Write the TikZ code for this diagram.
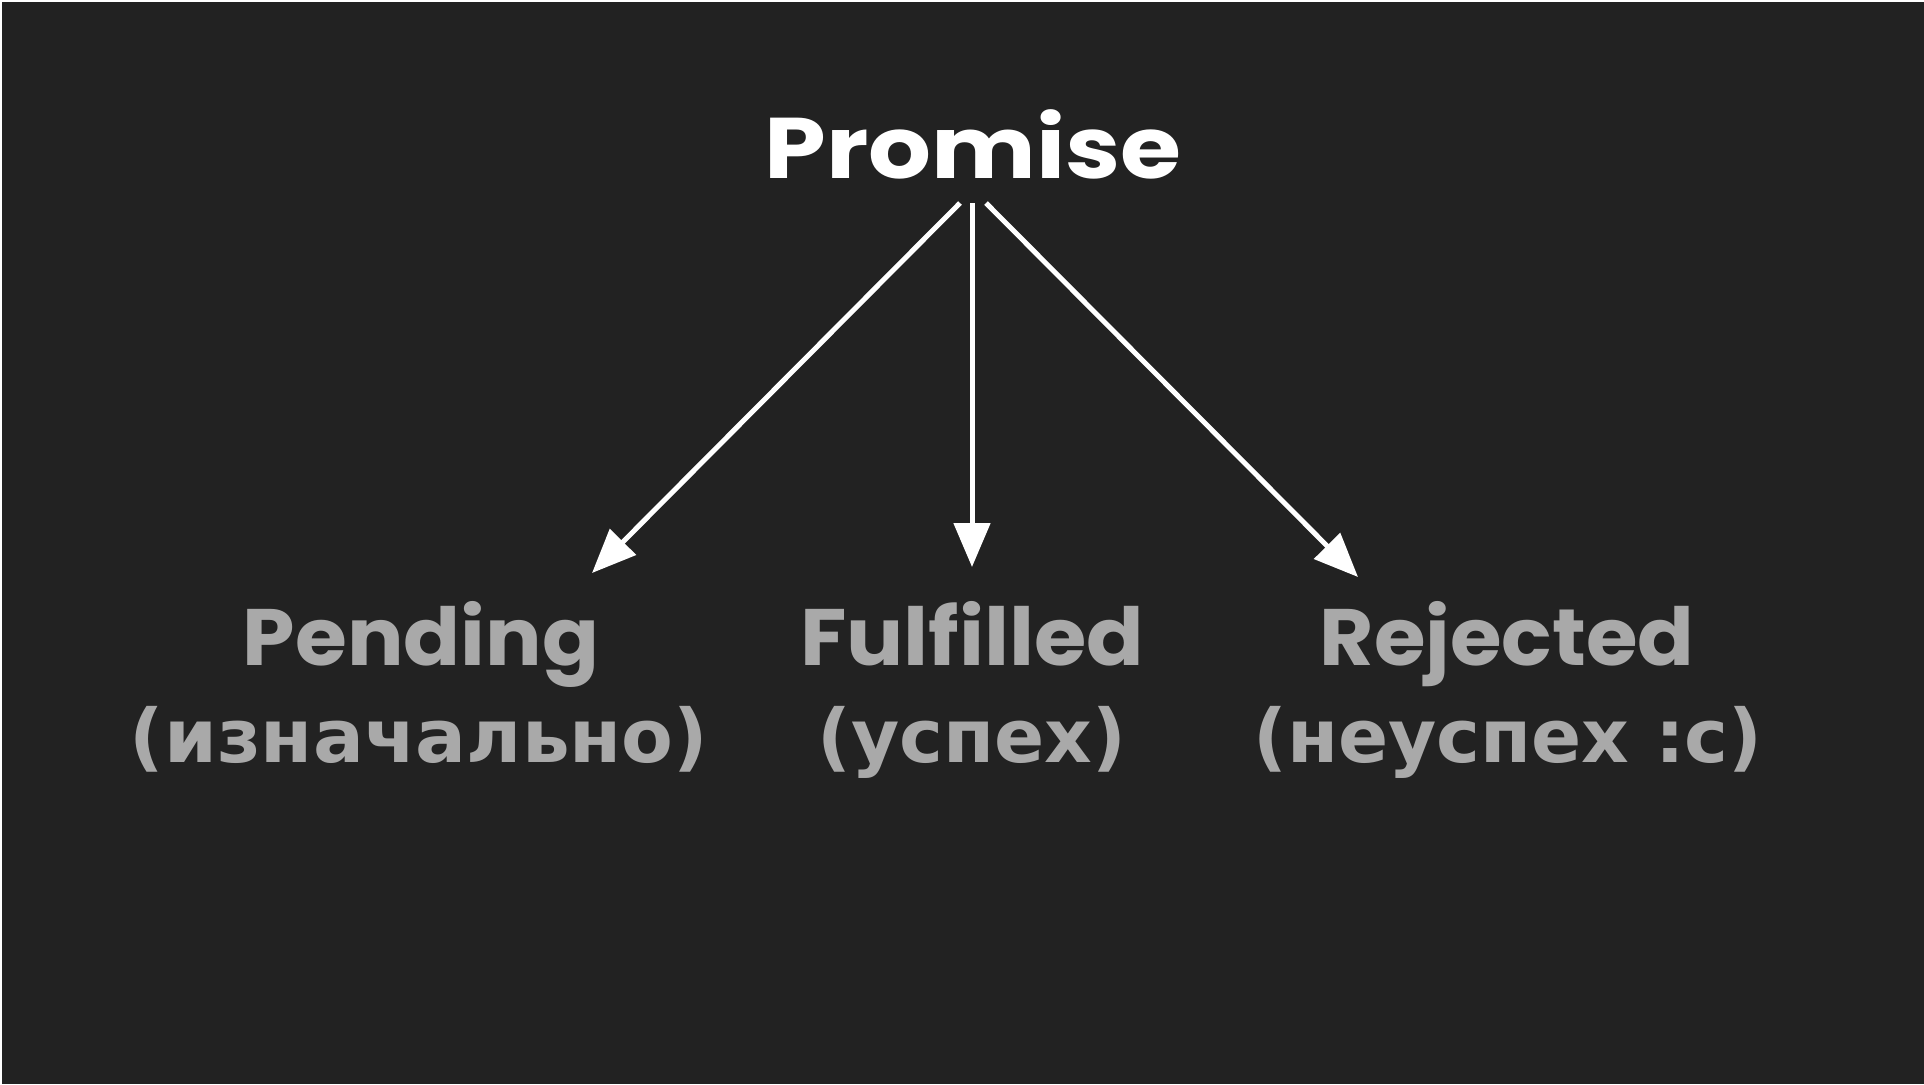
\documentclass[tikz,border=0pt]{standalone}
\usepackage{fontspec}
\setmainfont{Poppins}
\newfontfamily\cyrfont{DejaVu Sans}
\usetikzlibrary{arrows.meta}
\definecolor{bg}{HTML}{222222}
\definecolor{labelgrey}{HTML}{A9A9A9}
\newcommand{\wideby}[2]{\scalebox{#1}[1]{#2}}
\tikzset{
  title/.style={text=white,font=\fontsize{43}{48}\selectfont\bfseries,anchor=base,inner sep=0pt},
  statename/.style={text=labelgrey,font=\fontsize{40}{46}\selectfont\bfseries,anchor=base,inner sep=0pt},
  statenote/.style={text=labelgrey,font=\cyrfont\fontsize{37}{42}\selectfont\bfseries,anchor=base,inner sep=0pt},
  flow/.style={draw=white,line width=2.5pt,-{Triangle[length=22pt,width=18pt]}}
}
\begin{document}
\begin{tikzpicture}[x=0.5pt,y=-0.5pt]
\useasboundingbox (0,0) rectangle (1924,1084);
\fill[bg] (0,0) rectangle (1924,1084);
\fill[white] (0,0) rectangle (1924,2);
\fill[white] (0,0) rectangle (2,1084);
\node[title] (promise) at (973,178) {\wideby{1.15}{Promise}};
\node[statename] (pending) at (421,665) {\wideby{1.05}{Pending}};
\node[statenote] (pendingnote) at (419,762) {\wideby{1.02}{(изначально)}};
\node[statename] (fulfilled) at (972,665) {\wideby{1.06}{Fulfilled}};
\node[statenote] (fulfillednote) at (972,762) {(успех)};
\node[statename] (rejected) at (1507,665) {\wideby{1.045}{Rejected}};
\node[statenote] (rejectednote) at (1508,762) {(неуспех :c)};
\coordinate (s1) at (960,203);
\coordinate (s2) at (972,203);
\coordinate (s3) at (986,203);
\coordinate (t1) at (592,573);
\coordinate (t2) at (972,567);
\coordinate (t3) at (1358,577);
\draw[flow] (s1) -- (t1);
\draw[flow] (s2) -- (t2);
\draw[flow] (s3) -- (t3);
\end{tikzpicture}
\end{document}
